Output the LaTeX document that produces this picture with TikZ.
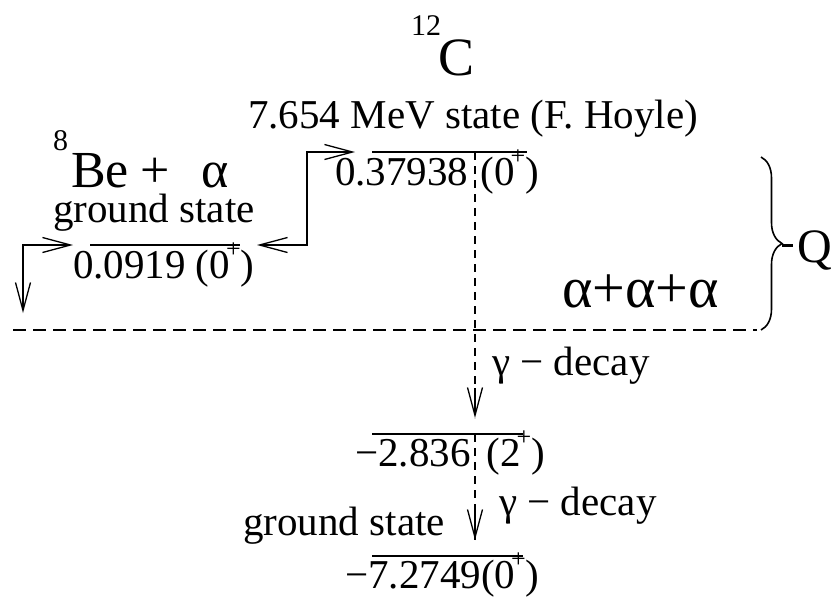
\documentclass[tikz,border=0pt]{standalone}
\usepackage{fontspec}
\setmainfont{Liberation Serif}
\newfontfamily\tms{Liberation Serif}
\newcommand{\plusup}{\hspace{-4pt}\raisebox{21pt}{\fontsize{26}{26}\selectfont +}}
\usetikzlibrary{arrows.meta,decorations.pathreplacing}
\begin{document}
\begin{tikzpicture}[x=1pt,y=-1pt,
  lvl/.style={line width=1.6pt},
  con/.style={line width=1.5pt,>={Straight Barb[length=28pt,width=15pt,line width=1.3pt]}},
  dsh/.style={line width=1.2pt,dash pattern=on 8pt off 6pt},
  txt/.style={font=\tms\fontsize{41}{44}\selectfont,inner sep=0pt,anchor=base west},
  big/.style={font=\tms\fontsize{48}{52}\selectfont,inner sep=0pt,anchor=base west},
  sml/.style={font=\tms\fontsize{30}{32}\selectfont,inner sep=0pt,anchor=base west}]
\useasboundingbox (0,0) rectangle (838,598);

% level end points
\coordinate (hoyleL) at (372,152);
\coordinate (hoyleR) at (527,152);
\coordinate (hoyleD) at (475,152);
\coordinate (beL) at (90,245);
\coordinate (beR) at (240,245);
\coordinate (lvtwoL) at (372,434);
\coordinate (lvtwoR) at (523,434);
\coordinate (lvtwoD) at (475,434);
\coordinate (gsL) at (372,556);
\coordinate (gsR) at (523,556);
\coordinate (tipA) at (475,418);
\coordinate (tipB) at (475,540);
\coordinate (inL) at (73,245);
\coordinate (downL) at (23,313);
\coordinate (outR) at (257,245);
\coordinate (corner) at (307,152);
\coordinate (inH) at (355,152);
\coordinate (zeroL) at (13,330);
\coordinate (zeroR) at (757,330);
\coordinate (brT) at (761,157);
\coordinate (brB) at (761,330);
\coordinate (brTip) at (782,245);
\coordinate (brEnd) at (793,245);

% levels
\draw[lvl] (hoyleL) -- (hoyleR);
\draw[lvl] (beL) -- (beR);
\draw[lvl] (lvtwoL) -- (lvtwoR);
\draw[lvl] (gsL) -- (gsR);

% zero line
\draw[line width=1.4pt,dash pattern=on 13pt off 7pt] (zeroL) -- (zeroR);

% connectors
\draw[con,<->] (inL) -| (downL);
\draw[con,<->] (outR) -| (corner) -- (inH);
\draw[dsh] (hoyleD) -- (tipA);
\draw[con,->] ([yshift=30pt]tipA) -- (tipA);
\draw[dsh] (lvtwoD) -- (tipB);
\draw[con,->] ([yshift=30pt]tipB) -- (tipB);

% brace
\draw[line width=1.6pt,decorate,decoration={brace,amplitude=21pt}] (brT) -- (brB);
\draw[line width=3pt] (brTip) -- (brEnd);
\node[big] (q) at (797,262) {Q};

% texts
\node[sml] (twelve) at (411,35) {12};
\node[big,font=\tms\fontsize{54}{56}\selectfont] (carbon) at (438,75) {C};
\node[txt] (hoyle) at (248,128) {7.654 MeV state (F. Hoyle)};
\node[txt] (hoylev) at (335,185) {0.37938\hspace{12pt}(0\plusup)};
\node[sml] (eight) at (53,150) {8};
\node[big,font=\tms\fontsize{52}{54}\selectfont] (beal) at (71,187) {Be\hspace{12pt}+\hspace{31pt}α};
\node[txt] (begs) at (53,222) {ground state};
\node[txt] (bev) at (73,278) {0.0919\hspace{10pt}(0\plusup)};
\node[big,font=\tms\fontsize{58}{60}\selectfont] (aaa) at (562,307) {α+α+α};
\node[txt] (gamA) at (492,375) {γ − decay};
\node[txt] (lvtwov) at (355,466) {−2.836\hspace{16pt}(2\plusup)};
\node[txt] (gamB) at (499,515) {γ − decay};
\node[txt,anchor=base east] (gsb) at (445,535) {ground state};
\node[txt] (gsv) at (345,588) {−7.2749(0\plusup)};
\end{tikzpicture}
\end{document}
